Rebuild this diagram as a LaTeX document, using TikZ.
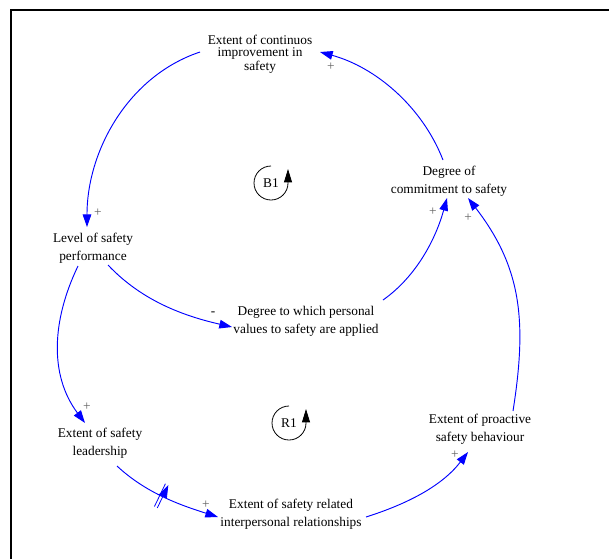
\documentclass[tikz,border=0pt]{standalone}
\usepackage{fontspec}
\setmainfont{Liberation Serif}
\usetikzlibrary{arrows.meta,decorations.markings}

\begin{document}
\begin{tikzpicture}[x=0.75pt,y=-0.75pt,
  var/.style={align=center, font=\fontsize{10}{13.5}\selectfont, inner sep=0pt, text=black},
  tightvar/.style={var, font=\fontsize{10}{9}\selectfont},
  pol/.style={font=\fontsize{10}{10}\selectfont, text=black!62, inner sep=0pt},
  link/.style={draw=blue, line width=0.7pt, -{Triangle[length=9.5pt,width=6.5pt]}},
  loopsym/.style={draw=black, line width=0.6pt, -{Triangle[length=10pt,width=6pt]}},
  delaymark/.style={postaction={decorate, decoration={markings, mark=at position 0.47 with {
      \draw[blue, line width=0.6pt] (-1.2pt,-9.5pt) -- (-1.2pt,9.5pt) (1.2pt,-9.5pt) -- (1.2pt,9.5pt);}}}},
]
\useasboundingbox (0,0) rectangle (609,558);

% frame, running off the right and bottom edges
\begin{scope}
  \clip (0,0) rectangle (609,558);
  \draw[line width=1.5pt] (11,10) rectangle (640,600);
\end{scope}

% variables
\node[tightvar] (T) at (260,54) {Extent of continuos\\improvement in\\safety};
\node[var] (D) at (449,181) {Degree of\\commitment to safety};
\node[var] (L) at (93,248) {Level of safety\\performance};
\node[var] (P) at (306,321) {Degree to which personal\\values to safety are applied};
\node[var] (S) at (100,443) {Extent of safety\\leadership};
\node[var] (I) at (291,514) {Extent of safety related\\interpersonal relationships};
\node[var] (B) at (480,429) {Extent of proactive\\safety behaviour};

% loop identifiers
\node[var] (B1) at (271,183) {B1};
\node[var] (R1) at (289,423) {R1};
\draw[loopsym] ([shift={(0,-17)}]B1.center) arc[start angle=270, end angle=0, radius=17] -- ++(0,-14);
\draw[loopsym] ([shift={(0,-17)}]R1.center) arc[start angle=270, end angle=0, radius=17] -- ++(0,-14);

% causal links
\draw[link] ([shift={(-60,-2)}]T.center) .. controls (128,76) and (87,151) .. ([shift={(-6,-21)}]L.center);
\draw[link] ([shift={(-6,-21)}]D.center) .. controls (422,106) and (375,67) .. ([shift={(60,-2)}]T.center);
\draw[link] ([shift={(15,17)}]L.center) .. controls (142,301) and (184,316) .. ([shift={(-74,6)}]P.center);
\draw[link] ([shift={(77,-21)}]P.center) .. controls (417,276) and (436,238) .. ([shift={(-2,17)}]D.center);
\draw[link] ([shift={(-15,18)}]L.center) .. controls (52,320) and (49,375) .. ([shift={(-15,-20)}]S.center);
\draw[link, delaymark] ([shift={(17,23)}]S.center) .. controls (146,493) and (180,505) .. ([shift={(-73,3)}]I.center);
\draw[link] ([shift={(75,3)}]I.center) .. controls (407,504) and (442,486) .. ([shift={(-12,23)}]B.center);
\draw[link] ([shift={(33,-18)}]B.center) .. controls (527,322) and (522,268) .. ([shift={(19,17)}]D.center);

% link polarities
\node[pol] (p1) at (98,213) {+};
\node[pol] (p2) at (331,67) {+};
\node[pol, text=black] (p3) at (213,314) {-};
\node[pol] (p4) at (433,212) {+};
\node[pol] (p5) at (87,407) {+};
\node[pol] (p6) at (206,505) {+};
\node[pol] (p7) at (455,455) {+};
\node[pol] (p8) at (468,218) {+};
\end{tikzpicture}
\end{document}
